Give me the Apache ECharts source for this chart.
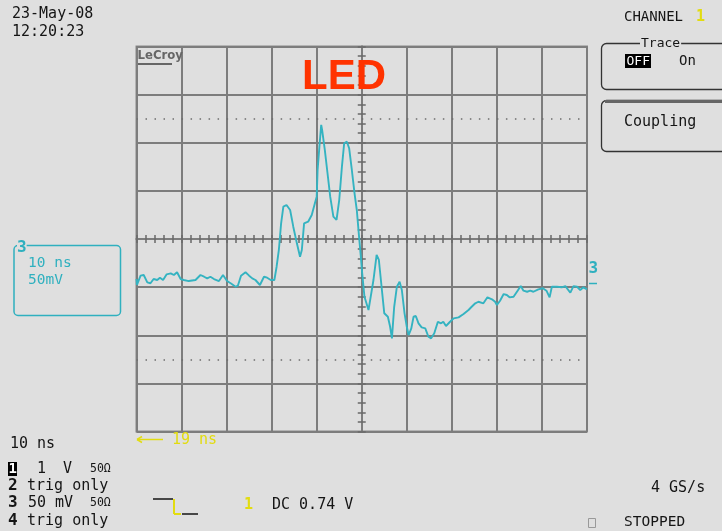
<!DOCTYPE html>
<html>
<head>
<meta charset="utf-8">
<script src="https://cdn.jsdelivr.net/npm/echarts@6/dist/echarts.min.js"></script>
<style>
html,body{margin:0;padding:0;background:#dfdfdf;}
#chart{width:722px;height:531px;}
</style>
</head>
<body>
<div id="chart"></div>
<script>
// Time axis (ns), 10 ns/div, 10 divisions
const xTicksNs = { min: -50, max: 50, interval: 10 };
// Voltage axis (mV), 50 mV/div, 8 divisions
const yTicksMv = { min: -200, max: 200, interval: 50 };
// Dotted reference levels (mV)
const dottedLevels = [125, -125];

// Channel 3 trace: time (ns)
const traceTime = [-50,-49.9,-49.1,-48.4,-47.6,-46.9,-46.2,-45.4,-44.8,-44.1,
 -43.3,-42.4,-41.7,-41.0,-40.2,-39.5,-38.4,-36.9,-35.8,-35.0,
 -34.3,-33.6,-32.8,-31.7,-30.8,-29.9,-29.1,-28.0,-27.5,-26.8,
 -25.8,-25.0,-24.3,-23.6,-22.6,-21.7,-21.0,-20.2,-19.4,-18.9,
 -18.4,-17.9,-17.4,-16.7,-15.9,-15.2,-14.4,-13.7,-13.3,-12.8,
 -11.9,-11.1,-10.4,-10.0,-9.8,-9.4,-9.0,-8.8,-8.2,-7.6,
 -7.0,-6.3,-5.6,-5.0,-4.4,-3.9,-3.3,-2.8,-2.2,-1.6,
 -1.1,-0.6,-0.2,0.1,0.6,1.5,1.8,2.6,3.3,3.8,
 4.4,5.0,5.8,6.3,6.7,7.2,7.8,8.4,8.9,9.5,
 10.0,10.4,11.0,11.5,12.0,12.6,13.3,14.1,14.8,15.4,
 16.1,16.9,17.6,18.1,18.7,19.6,20.4,21.5,22.6,23.7,
 24.4,25.2,25.9,27.0,27.9,28.9,29.6,30.0,30.7,31.5,
 32.2,32.8,33.7,34.6,35.3,35.9,36.7,37.4,38.1,39.2,
 40.2,41.0,41.7,42.2,43.3,44.4,45.2,46.3,47.0,47.8,
 48.5,49.2,50.0];
// Channel 3 trace: voltage (mV)
const traceMv = [-41.6,-47.8,-38.1,-37.4,-45.0,-46.0,-41.6,-42.6,-40.2,-42.6,
 -36.7,-35.7,-37.4,-34.6,-41.6,-42.6,-43.7,-42.6,-37.4,-39.2,
 -40.9,-39.2,-41.6,-43.7,-37.4,-43.7,-46.0,-49.6,-48.5,-38.1,
 -34.6,-38.1,-40.9,-42.6,-47.8,-39.2,-40.2,-42.6,-42.6,-28.8,
 -11.4,16.3,33.6,35.3,30.1,12.8,-4.5,-18.4,-11.4,16.3,
 18.0,24.9,37.1,44.0,71.7,95.9,118.5,113.3,92.5,68.3,
 44.0,23.2,19.8,40.5,75.2,99.5,101.1,94.3,71.7,47.5,
 30.1,2.4,-18.4,-35.7,-60.0,-73.8,-72.0,-42.6,-16.6,-21.8,
 -49.6,-77.2,-80.8,-91.2,-103.3,-70.4,-49.6,-44.4,-53.0,-77.2,
 -91.2,-99.8,-92.8,-80.8,-80.0,-87.6,-91.8,-92.8,-101.6,-103.2,
 -98.0,-86.0,-87.6,-86.0,-90.4,-86.0,-82.4,-81.4,-78.0,-73.8,
 -70.4,-66.8,-65.2,-66.8,-60.6,-62.7,-65.2,-68.6,-64.1,-57.2,
 -58.2,-60.6,-60.0,-53.7,-48.9,-53.7,-54.8,-53.7,-54.8,-52.3,
 -51.2,-53.7,-60.6,-49.6,-49.6,-50.2,-48.9,-55.8,-48.9,-49.6,
 -53.0,-50.2,-52.3];

const titleText = 'LED';
const dateText = '23-May-08';
const timeText = '12:20:23';
const timebaseText = '10 ns';
const sampleRateText = '4 GS/s';
const triggerText = 'DC 0.74 V';
const delayText = '19 ns';

const data = traceTime.map((t, i) => [t, traceMv[i]]);

const BG = '#dfdfdf';
const GRIDC = '#7d7d7d';
const CYAN = '#2fb0bf';
const YEL = '#e2dc10';
const INK = '#151515';
const MONO = '"DejaVu Sans Mono", monospace';

function txt(x, y, s, o) {
  o = o || {};
  return {
    type: 'text', x: x, y: y, z: 100,
    style: {
      text: s,
      fill: o.fill || INK,
      font: (o.weight || 'normal') + ' ' + (o.size || 15) + 'px ' + (o.family || MONO),
      align: o.align || 'left',
      verticalAlign: 'middle',
      backgroundColor: o.bg,
      padding: o.pad
    }
  };
}
function line(x1, y1, x2, y2, stroke, w) {
  return { type: 'line', z: 100, shape: { x1, y1, x2, y2 }, style: { stroke, lineWidth: w || 1.5 } };
}

const tickStyle = { color: '#6a6a6a', width: 1.5 };
const baseAxis = {
  type: 'value',
  axisLabel: { show: false },
  axisLine: { show: true, onZero: true, lineStyle: { color: GRIDC, width: 2 } },
  axisTick: { show: true, length: 4, lineStyle: tickStyle },
  minorTick: { show: true, splitNumber: 5, length: 4, lineStyle: tickStyle },
  splitLine: { show: false }
};

const chart = echarts.init(document.getElementById('chart'), null, { renderer: 'canvas' });
chart.setOption({
  backgroundColor: BG,
  animation: false,
  grid: {
    left: 136.5, right: 135, top: 46.5, bottom: 99.5,
    show: true, borderColor: '#8a8a8a', borderWidth: 2, backgroundColor: 'transparent'
  },
  xAxis: [
    Object.assign({}, baseAxis, {
      min: xTicksNs.min, max: xTicksNs.max, interval: xTicksNs.interval, position: 'bottom',
      splitLine: { show: true, lineStyle: { color: GRIDC, width: 2 } }
    }),
    Object.assign({}, baseAxis, {
      min: xTicksNs.min, max: xTicksNs.max, interval: xTicksNs.interval, position: 'top'
    })
  ],
  yAxis: [
    Object.assign({}, baseAxis, {
      min: yTicksMv.min, max: yTicksMv.max, interval: yTicksMv.interval, position: 'left',
      splitLine: { show: true, lineStyle: { color: GRIDC, width: 2 } }
    }),
    Object.assign({}, baseAxis, {
      min: yTicksMv.min, max: yTicksMv.max, interval: yTicksMv.interval, position: 'right'
    })
  ],
  series: [{
    type: 'line',
    xAxisIndex: 0, yAxisIndex: 0,
    data: data,
    showSymbol: false,
    symbol: 'none',
    z: 10,
    lineStyle: { color: '#34b3c1', width: 1.9 },
    markLine: {
      silent: true, symbol: 'none', label: { show: false },
      lineStyle: { color: '#6e6e6e', width: 1.5, type: [1.5, 7.51] },
      data: dottedLevels.map(v => ({ yAxis: v }))
    }
  }],
  graphic: [
    // top-left date/time
    txt(12, 14, dateText),
    txt(12, 32, timeText),
    // LeCroy logo
    txt(137.5, 56, 'LeCroy', { size: 13, weight: 'bold', family: '"DejaVu Sans Condensed", sans-serif', fill: '#666' }),
    line(138, 64, 172, 64, '#666', 2),
    // LED title
    txt(302, 77, titleText, { size: 42, weight: 'bold', family: '"Liberation Sans", Arial, sans-serif', fill: '#ff3300' }),
    // right panel
    txt(624, 17, 'CHANNEL', { size: 14 }),
    txt(696, 17, '1', { size: 15, fill: YEL, weight: 'bold' }),
    { type: 'rect', z: 100, shape: { x: 601.5, y: 43.5, width: 140, height: 46, r: 5 }, style: { fill: 'none', stroke: '#333', lineWidth: 1.3 } },
    txt(640, 43.5, 'Trace', { size: 13, bg: BG, pad: [0, 1] }),
    { type: 'rect', z: 100, shape: { x: 625, y: 54, width: 26, height: 14 }, style: { fill: '#000' } },
    txt(626.5, 61.5, 'OFF', { size: 13, fill: '#fff' }),
    txt(679, 61.5, 'On', { size: 14 }),
    { type: 'rect', z: 100, shape: { x: 601.5, y: 100.5, width: 140, height: 51, r: 5 }, style: { fill: 'none', stroke: '#333', lineWidth: 1.3 } },
    line(605, 101.5, 722, 101.5, '#666', 3),
    txt(624, 122, 'Coupling', { size: 15 }),
    // left channel 3 box
    { type: 'rect', z: 100, shape: { x: 14, y: 245.5, width: 106.5, height: 70, r: 4 }, style: { fill: 'none', stroke: CYAN, lineWidth: 1.5 } },
    txt(17, 248, '3', { size: 16, weight: 'bold', fill: CYAN, bg: BG }),
    txt(28, 263, '10 ns', { size: 14.5, fill: CYAN }),
    txt(28, 280, '50mV', { size: 14.5, fill: CYAN }),
    // right ground marker
    txt(588.5, 269, '3', { size: 16, weight: 'bold', fill: CYAN }),
    line(589, 283.5, 597, 283.5, CYAN, 1.5),
    // delay arrow
    line(137, 439.5, 163, 439.5, YEL, 1.5),
    line(137, 439.5, 142, 436.5, YEL, 1.5),
    line(137, 439.5, 142, 442.5, YEL, 1.5),
    txt(172, 440, delayText, { size: 15, fill: YEL }),
    // bottom left info
    txt(10, 444.5, timebaseText),
    { type: 'rect', z: 100, shape: { x: 8, y: 462, width: 9, height: 14 }, style: { fill: '#000' } },
    txt(8.5, 469, '1', { size: 14, weight: 'bold', fill: '#fff' }),
    txt(37, 469, '1', { size: 15 }),
    txt(63, 469, 'V', { size: 15 }),
    txt(90, 469, '50Ω', { size: 11.5 }),
    txt(8, 486, '2', { size: 16, weight: 'bold' }),
    txt(27, 486, 'trig only', { size: 15 }),
    txt(8, 503, '3', { size: 16, weight: 'bold' }),
    txt(28, 503, '50', { size: 15 }),
    txt(55, 503, 'mV', { size: 15 }),
    txt(90, 503, '50Ω', { size: 11.5 }),
    txt(8, 521, '4', { size: 16, weight: 'bold' }),
    txt(27, 521, 'trig only', { size: 15 }),
    // trigger symbol
    line(153, 499, 173, 499, INK, 1.5),
    line(174, 499, 174, 514, YEL, 2),
    line(174, 514, 181, 514, YEL, 2),
    line(182, 514, 198, 514, INK, 1.5),
    txt(244, 505, '1', { size: 15, fill: YEL, weight: 'bold' }),
    txt(272, 505, triggerText, { size: 15 }),
    // bottom right
    txt(651, 488, sampleRateText, { size: 15 }),
    { type: 'rect', z: 100, shape: { x: 588.5, y: 518.5, width: 7, height: 9 }, style: { fill: 'none', stroke: '#999', lineWidth: 1 } },
    txt(624, 522.5, 'STOPPED', { size: 14.5 })
  ]
});
</script>
</body>
</html>
